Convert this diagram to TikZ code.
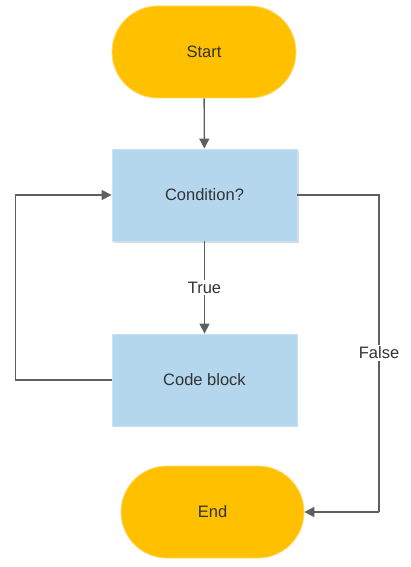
\documentclass[tikz,border=0pt]{standalone}
\usepackage{fontspec}
\setmainfont{Liberation Sans}
\usetikzlibrary{arrows.meta,shapes.misc,shadows}
\definecolor{term}{HTML}{FFC000}
\definecolor{termb}{HTML}{FFD966}
\definecolor{proc}{HTML}{B4D7EE}
\definecolor{procb}{HTML}{C9E2F3}
\definecolor{lin}{HTML}{5F5F5F}
\definecolor{txt}{HTML}{333333}
\begin{document}
\begin{tikzpicture}[x=1pt,y=-1pt,
  base/.style={font=\fontsize{16.5}{19}\selectfont, text=txt, inner sep=0pt},
  term/.style={base, rounded rectangle, fill=term, draw=termb, line width=0.8pt, minimum width=184pt, minimum height=92pt},
  proc/.style={base, rectangle, fill=proc, draw=procb, line width=0.8pt, minimum width=185pt, minimum height=92pt},
  conn/.style={draw=lin, line width=1.4pt, -{Triangle[length=10pt,width=10pt]}},
  plain/.style={draw=lin, line width=1.4pt},
  lbl/.style={base, fill=white, inner sep=2pt}]
\useasboundingbox (0,0) rectangle (411,567);
\node[term] (start) at (204,52) {Start};
\node[proc, drop shadow={shadow xshift=2pt, shadow yshift=-2pt, opacity=0.25, fill=black!60}] (cond) at (204.5,195) {Condition?};
\node[proc] (code) at (204.5,380) {Code block};
\node[term, minimum width=183pt] (end) at (212.5,512) {End};
\coordinate (l1) at (15.5,380);
\coordinate (l2) at (15.5,195);
\coordinate (r1) at (379,195);
\coordinate (r2) at (379,512);
\draw[conn] (start) -- (cond);
\draw[conn] (cond) -- node[lbl] (tlbl) {True} (code);
\draw[conn] (code.west) -- (l1) -- (l2) -- (cond.west);
\draw[plain] (cond.east) -- (r1) -- (r2);
\draw[conn] (r2) -- (end.east);
\node[lbl] (flbl) at (379,353) {False};
\end{tikzpicture}
\end{document}
